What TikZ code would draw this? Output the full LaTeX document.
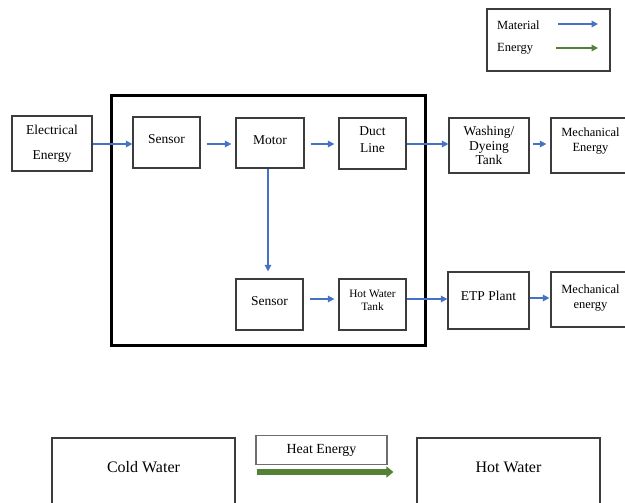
\documentclass[tikz,border=0pt]{standalone}
\usepackage{fontspec}
\setmainfont{Liberation Serif}
\usetikzlibrary{arrows.meta}
\definecolor{matblue}{RGB}{68,114,196}
\definecolor{engreen}{RGB}{84,130,53}
\definecolor{boxgray}{RGB}{60,60,60}
\definecolor{lightgray}{RGB}{110,110,110}
\begin{document}
\begin{tikzpicture}[x=1pt,y=-1pt,
    blk/.style={draw=boxgray, line width=1.2pt, align=center, inner sep=0pt},
    flow/.style={-{Triangle[length=6.5pt,width=6.5pt]}, matblue, line width=1.5pt},
    heat/.style={-{Triangle[length=7pt,width=11pt]}, engreen, line width=6pt},
    txt/.style={font=\fontsize{13.5}{#1}\selectfont},
    txt/.default=15,
    lift/.style={text depth=#1}]
  \useasboundingbox (0,0) rectangle (625,503);
  \clip (0,0) rectangle (625,503);

  % legend
  \node[blk, minimum width=123pt, minimum height=62pt] (legend) at (548.5,40) {};
  \node[anchor=west, inner sep=0pt, font=\fontsize{12.5}{14}\selectfont] (lmat) at (497,25) {Material};
  \node[anchor=west, inner sep=0pt, font=\fontsize{12.5}{14}\selectfont] (leng) at (497,49) {Energy};
  \coordinate (mat1) at (558,24);
  \coordinate (mat2) at (598,24);
  \coordinate (eng1) at (556,48);
  \coordinate (eng2) at (598,48);
  \draw[flow] (mat1) -- (mat2);
  \draw[flow, engreen] (eng1) -- (eng2);

  % control unit
  \node[draw, line width=3pt, minimum width=314pt, minimum height=249pt] (unit) at (268,220.5) {};

  % top row
  \node[blk, txt=25, minimum width=80pt, minimum height=55pt] (elec) at (52,143.5) {Electrical\\Energy};
  \node[blk, txt, lift=7pt, minimum width=67pt, minimum height=51pt] (sens1) at (166.5,142.5) {Sensor};
  \node[blk, txt, lift=6pt, minimum width=68pt, minimum height=50pt] (motor) at (270,143) {Motor};
  \node[blk, txt=17, lift=8pt, minimum width=67pt, minimum height=51pt] (duct) at (372.5,143.5) {Duct\\Line};
  \node[blk, txt=14.5, minimum width=80pt, minimum height=55pt] (wash) at (489,145.5) {Washing/\\Dyeing\\Tank};
  \node[blk, font=\fontsize{12.5}{15}\selectfont, lift=10.7pt, minimum width=79pt, minimum height=55pt] (mech1) at (590.5,145.5) {Mechanical\\Energy};

  % bottom row
  \node[blk, txt, lift=7pt, minimum width=67pt, minimum height=51pt] (sens2) at (269.5,304.5) {Sensor};
  \node[blk, font=\fontsize{11.3}{13}\selectfont, lift=8pt, minimum width=67pt, minimum height=51pt] (hwt) at (372.5,304.5) {Hot Water\\Tank};
  \node[blk, txt, lift=9pt, minimum width=81pt, minimum height=57pt] (etp) at (488.5,300.5) {ETP Plant};
  \node[blk, font=\fontsize{12.5}{15}\selectfont, lift=6pt, minimum width=79pt, minimum height=55pt] (mech2) at (590.5,299.5) {Mechanical\\energy};

  % heating
  \node[blk, font=\fontsize{16}{18}\selectfont, lift=24pt, minimum width=183pt, minimum height=82pt] (cold) at (143.5,479) {Cold Water};
  \node[blk, draw=lightgray, font=\fontsize{13.9}{16}\selectfont, minimum width=131pt, minimum height=29pt] (heatbox) at (321.5,450) {Heat Energy};
  \node[blk, font=\fontsize{16}{18}\selectfont, lift=24pt, minimum width=183pt, minimum height=82pt] (hot) at (508.5,479) {Hot Water};

  % arrows
  \draw[flow] ([yshift=-0.5pt]elec.east) -- ([yshift=-0.5pt]elec.east -| sens1.west);
  \draw[flow, shorten <=6pt, shorten >=4pt] ([yshift=-1.5pt]sens1.east) -- ([yshift=-1.5pt]sens1.east -| motor.west);
  \draw[flow, shorten <=6pt, shorten >=4pt] ([yshift=-1pt]motor.east) -- ([yshift=-1pt]motor.east -| duct.west);
  \draw[flow] ([yshift=-0.5pt]duct.east) -- ([yshift=-0.5pt]duct.east -| wash.west);
  \draw[flow, shorten <=3pt, shorten >=4pt] ([yshift=1.5pt]wash.east) -- ([yshift=1.5pt]wash.east -| mech1.west);
  \draw[flow, shorten >=7pt] ([xshift=-2pt]motor.south) -- ([xshift=-2pt]motor.south |- sens2.north);
  \draw[flow, shorten <=6pt, shorten >=4pt] ([yshift=5.5pt]sens2.east) -- ([yshift=5.5pt]sens2.east -| hwt.west);
  \draw[flow] ([yshift=5.5pt]hwt.east) -- ([yshift=5.5pt]hwt.east -| etp.west);
  \draw[flow, shorten >=1pt] ([yshift=2.5pt]etp.east) -- ([yshift=2.5pt]etp.east -| mech2.west);
  \draw[heat, shorten <=21pt, shorten >=23pt] ([yshift=7pt]cold.east) -- ([yshift=7pt]hot.west);
\end{tikzpicture}
\end{document}
